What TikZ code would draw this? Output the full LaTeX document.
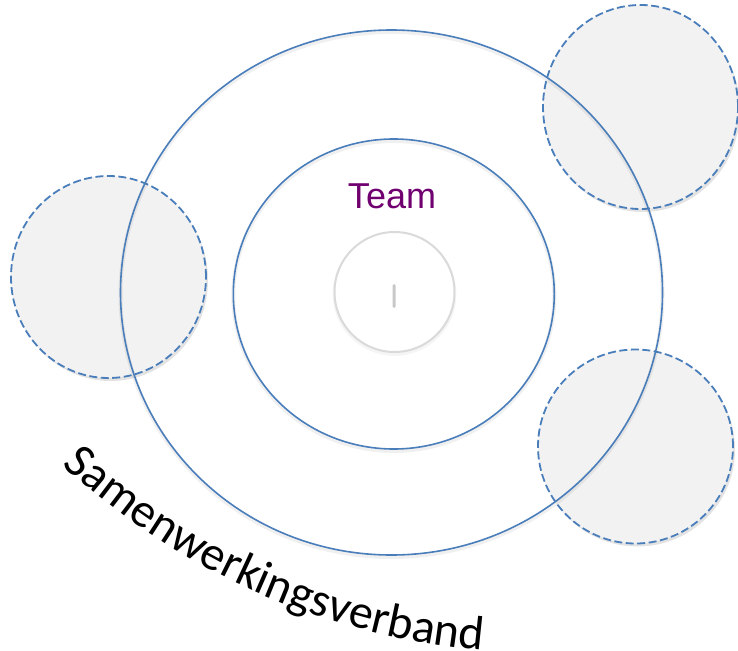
\documentclass[tikz,border=0pt]{standalone}
\usepackage{fontspec}
\newfontfamily\labelfont{Carlito}
\newfontfamily\teamfont{Liberation Sans}
\usetikzlibrary{shadows,decorations.text,shapes.geometric}
\definecolor{ringblue}{RGB}{74,126,187}
\definecolor{satfill}{RGB}{242,242,242}
\definecolor{teampurple}{RGB}{112,0,112}
\definecolor{coregray}{RGB}{218,218,218}
\definecolor{markgray}{RGB}{200,200,200}

\begin{document}
\begin{tikzpicture}[x=1pt,y=-1pt,
  ring/.style n args={2}{ellipse, draw=ringblue, line width=1.6pt, inner sep=0pt,
    minimum width=#1, minimum height=#2,
    preaction={draw=black, draw opacity=0.06, line width=4pt, transform canvas={yshift=-2pt}}},
  satellite/.style n args={2}{ellipse, draw=ringblue, line width=1.8pt,
    dash pattern=on 8pt off 3.5pt, fill=satfill, inner sep=0pt,
    minimum width=#1, minimum height=#2,
    drop shadow={opacity=0.22, shadow xshift=2pt, shadow yshift=-3pt}},
  corering/.style={circle, draw=coregray, line width=2pt, fill=white, inner sep=0pt,
    minimum size=#1,
    drop shadow={opacity=0.08, shadow xshift=0pt, shadow yshift=-2pt, shadow scale=1.03}},
]
\useasboundingbox (0,0) rectangle (738,650);

% satellite groups around the partnership ring
\node[satellite={195pt}{202pt}] (left) at (108.5,277) {};
\node[satellite={195pt}{204pt}] (topright) at (640.5,107) {};
\node[satellite={195pt}{194pt}] (bottomright) at (635.5,446.5) {};

% partnership ring and team ring
\node[ring={542pt}{525pt}] (outer) at (391.5,292.5) {};
\node[ring={321pt}{310pt}] (inner) at (393.8,294) {};

% core circle with its small mark
\node[corering=120pt] (core) at (394.5,292) {};
\node[rectangle, fill=markgray, minimum width=3pt, minimum height=24pt, inner sep=0pt,
  rounded corners=1.5pt] (mark) at (394,296) {};

% labels
\node[text=teampurple, font=\teamfont\fontsize{36}{40}\selectfont, anchor=base, inner sep=0pt]
  (team) at (392,208) {Team};
\path[decorate, decoration={text along path, text align=center,
    text={|\labelfont\fontsize{48}{53}\selectfont|Samenwerkingsverband}}]
  (48.3,452.3) arc[start angle=134, end angle=93.5, radius=715];
\end{tikzpicture}
\end{document}
